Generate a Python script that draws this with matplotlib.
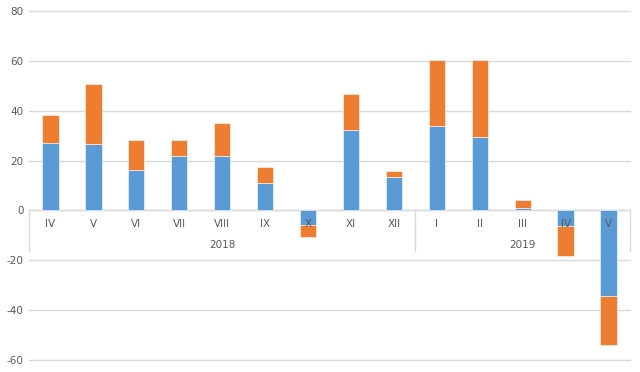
import numpy as np
import matplotlib
matplotlib.use("Agg")
import matplotlib.pyplot as plt

plt.rcParams["axes.unicode_minus"] = False

# Data
months = ["IV", "V", "VI", "VII", "VIII", "IX", "X", "XI", "XII", "I", "II", "III", "IV", "V"]
years = ["2018", "2019"]
year_sizes = [9, 5]
blue_vals = [27.2, 26.7, 16.4, 22.0, 21.8, 11.0, -5.9, 32.4, 13.4, 33.8, 29.4, 1.0, -6.1, -34.2]
orange_vals = [11.2, 24.0, 11.8, 6.2, 13.3, 6.3, -4.8, 14.3, 2.5, 26.6, 30.8, 3.1, -12.0, -19.7]
y_ticks = [-60, -40, -20, 0, 20, 40, 60, 80]

blue = "#5B9BD5"
orange = "#ED7D31"
grid_col = "#D9D9D9"
text_col = "#595959"

fig = plt.figure(figsize=(6.4, 3.72), dpi=100)
ax = fig.add_axes([0.0453, 0.0323, 0.9391, 0.9381])

x = np.arange(len(months))
ax.bar(x, blue_vals, width=0.38, color=blue, edgecolor="white", linewidth=0.4, zorder=3)
ax.bar(x, orange_vals, width=0.38, bottom=blue_vals, color=orange,
       edgecolor="white", linewidth=0.4, zorder=3)

ax.set_xlim(-0.5, len(months) - 0.5)
ax.set_ylim(-60, 80)
ax.set_yticks(y_ticks)
ax.set_xticks([])
for s in ax.spines.values():
    s.set_visible(False)
ax.yaxis.grid(True, color=grid_col, linewidth=1.0, zorder=0)
for gl in ax.get_ygridlines():
    gl.set_clip_on(False)
ax.tick_params(axis="y", length=0, labelsize=7.5, labelcolor=text_col, pad=4)

# category axis at zero with grouped labels
ax.axhline(0, color=grid_col, linewidth=1.0, zorder=2)
for xi, m in zip(x, months):
    ax.text(xi, -5.4, m, ha="center", va="center", fontsize=7.5, color=text_col, zorder=4)

start = 0
bounds = [-0.5]
for yr, n in zip(years, year_sizes):
    ax.text(start + (n - 1) / 2, -13.9, yr, ha="center", va="center",
            fontsize=7.5, color=text_col, zorder=4)
    start += n
    bounds.append(start - 0.5)
for b in bounds:
    ax.plot([b, b], [0, -16.3], color=grid_col, linewidth=1.0, zorder=2, clip_on=False)

fig.savefig("out.png", dpi=100)
